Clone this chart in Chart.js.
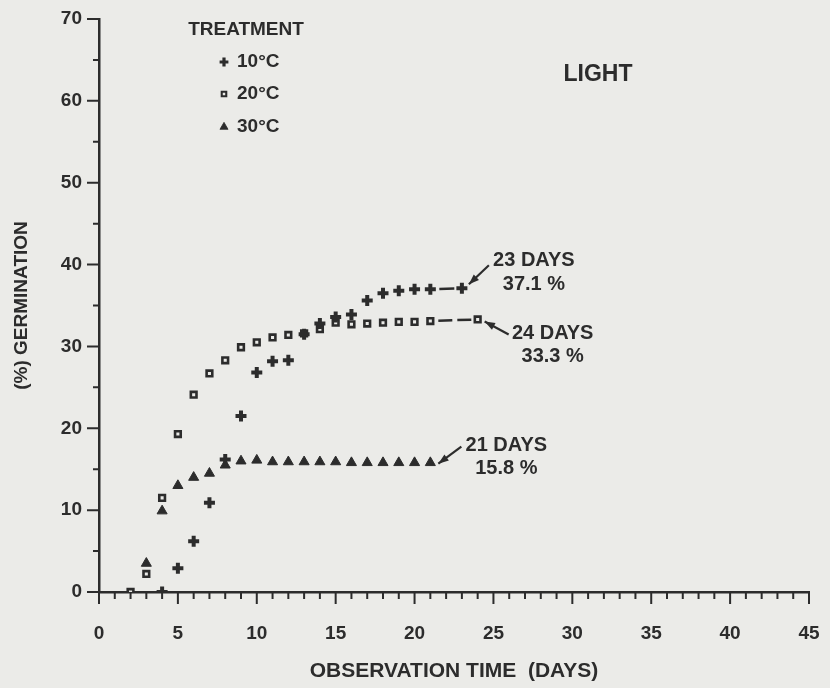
<!DOCTYPE html>
<html>
<head>
<meta charset="utf-8">
<title>Germination - light</title>
<script src="https://cdn.jsdelivr.net/npm/chart.js@4.4.1/dist/chart.umd.min.js"></script>
<style>
  html, body { margin: 0; padding: 0; background: #ebebe8; }
  #wrap { width: 830px; height: 688px; }
</style>
</head>
<body>
<div id="wrap"><canvas id="germination_chart" width="830" height="688"></canvas></div>
<script>
// observation days and % germination
const days_10c = [4, 5, 6, 7, 8, 9, 10, 11, 12, 13, 14, 15, 16, 17, 18, 19, 20, 21, 23];
const germ_10c = [0, 2.9, 6.2, 10.9, 16.2, 21.5, 26.8, 28.2, 28.3, 31.5, 32.8, 33.6, 33.9, 35.6, 36.5, 36.8, 37.0, 37.0, 37.1];

const days_20c = [2, 3, 4, 5, 6, 7, 8, 9, 10, 11, 12, 13, 14, 15, 16, 17, 18, 19, 20, 21, 24];
const germ_20c = [0, 2.2, 11.5, 19.3, 24.1, 26.7, 28.3, 29.9, 30.5, 31.1, 31.4, 31.6, 32.1, 32.9, 32.7, 32.8, 32.9, 33.0, 33.0, 33.1, 33.3];

const days_30c = [3, 4, 5, 6, 7, 8, 9, 10, 11, 12, 13, 14, 15, 16, 17, 18, 19, 20, 21];
const germ_30c = [3.5, 9.9, 13.0, 14.0, 14.5, 15.5, 16.0, 16.1, 15.9, 15.9, 15.9, 15.9, 15.9, 15.8, 15.8, 15.8, 15.8, 15.8, 15.8];

const treatments = ['10°C', '20°C', '30°C'];
const final_labels = [['23 DAYS', '37.1 %'], ['24 DAYS', '33.3 %'], ['21 DAYS', '15.8 %']];

const x_ticks = [0, 5, 10, 15, 20, 25, 30, 35, 40, 45];
const y_ticks = [0, 10, 20, 30, 40, 50, 60, 70];

const ink = '#2c2c2c';
const paper = '#ebebe8';
const fontFamily = "'Liberation Sans', Arial, Helvetica, sans-serif";

const toPoints = (xs, ys) => xs.map((x, i) => ({ x: x, y: ys[i] }));
const lastPoints = (xs, ys, n) => toPoints(xs.slice(-n), ys.slice(-n));

// tick marks along both axes (major every 5 days / 10 %, minor in between)
const axisTicks = {
  id: 'axisTicks',
  afterDraw(chart) {
    const { ctx, scales: { x, y } } = chart;
    ctx.save();
    ctx.strokeStyle = ink;
    ctx.lineWidth = 2;
    ctx.beginPath();
    for (let d = 0; d <= 45; d++) {
      const px = x.getPixelForValue(d);
      ctx.moveTo(px, y.bottom);
      ctx.lineTo(px, y.bottom + (x_ticks.includes(d) ? 12 : 7));
    }
    for (let v = 0; v <= 70; v += 5) {
      const py = y.getPixelForValue(v);
      ctx.moveTo(x.left - (y_ticks.includes(v) ? 12 : 6), py);
      ctx.lineTo(v === 0 ? x.left + 6 : x.left, py);
    }
    ctx.stroke();
    ctx.restore();
  }
};

// "TREATMENT" key and "LIGHT" heading
const treatmentKey = {
  id: 'treatmentKey',
  afterDraw(chart) {
    const ctx = chart.ctx;
    ctx.save();
    ctx.fillStyle = ink;
    ctx.textBaseline = 'middle';
    ctx.font = 'bold 19px ' + fontFamily;
    ctx.textAlign = 'center';
    ctx.fillText('TREATMENT', 246, 30);
    ctx.font = 'bold 23px ' + fontFamily;
    ctx.fillText('LIGHT', 598, 75);

    const rowY = [62, 94, 127];
    ctx.font = 'bold 19px ' + fontFamily;
    ctx.textAlign = 'left';
    chart.data.datasets.slice(0, 3).forEach((ds, i) => {
      ctx.fillStyle = ds.backgroundColor;
      ctx.strokeStyle = ds.borderColor;
      ctx.lineWidth = ds.pointBorderWidth * 0.8;
      Chart.helpers.drawPoint(ctx, {
        pointStyle: ds.pointStyle,
        radius: ds.pointRadius * 0.8,
        borderWidth: ds.pointBorderWidth * 0.8,
        rotation: 0
      }, 224, rowY[i]);
      ctx.fillStyle = ink;
      ctx.fillText(treatments[i], 237, rowY[i]);
    });
    ctx.restore();
  }
};

// arrows and text at the end of each curve
const finalNotes = {
  id: 'finalNotes',
  afterDraw(chart) {
    const ctx = chart.ctx;
    const place = [
      { tip: [7, -4], tail: [27, -23], text: [72, -28, -4] },
      { tip: [7, 2], tail: [31, 15], text: [75, 14, 37] },
      { tip: [8, 1], tail: [31, -16], text: [76, -17, 6] }
    ];
    ctx.save();
    ctx.fillStyle = ink;
    ctx.strokeStyle = ink;
    ctx.lineWidth = 2.2;
    ctx.font = 'bold 20px ' + fontFamily;
    ctx.textAlign = 'center';
    ctx.textBaseline = 'middle';
    place.forEach((p, i) => {
      const pts = chart.getDatasetMeta(i).data;
      const pt = pts[pts.length - 1];
      const tx = pt.x + p.tip[0], ty = pt.y + p.tip[1];
      const ex = pt.x + p.tail[0], ey = pt.y + p.tail[1];
      ctx.beginPath();
      ctx.moveTo(tx, ty);
      ctx.lineTo(ex, ey);
      ctx.stroke();
      const a = Math.atan2(ey - ty, ex - tx);
      ctx.beginPath();
      ctx.moveTo(tx, ty);
      ctx.lineTo(tx + 11 * Math.cos(a + 0.35), ty + 11 * Math.sin(a + 0.35));
      ctx.lineTo(tx + 11 * Math.cos(a - 0.35), ty + 11 * Math.sin(a - 0.35));
      ctx.closePath();
      ctx.fill();
      ctx.fillText(final_labels[i][0], pt.x + p.text[0], pt.y + p.text[1]);
      ctx.fillText(final_labels[i][1], pt.x + p.text[0], pt.y + p.text[2]);
    });
    ctx.restore();
  }
};

const germination_chart = new Chart(document.getElementById('germination_chart'), {
  type: 'scatter',
  data: {
    datasets: [
      {
        label: treatments[0],
        data: toPoints(days_10c, germ_10c),
        pointStyle: 'cross',
        pointRadius: 5.5,
        pointBorderWidth: 4,
        borderColor: ink,
        backgroundColor: ink
      },
      {
        label: treatments[1],
        data: toPoints(days_20c, germ_20c),
        pointStyle: 'rect',
        pointRadius: 4,
        pointBorderWidth: 2.6,
        borderColor: ink,
        backgroundColor: paper
      },
      {
        label: treatments[2],
        data: toPoints(days_30c, germ_30c),
        pointStyle: 'triangle',
        pointRadius: 5.8,
        pointBorderWidth: 1,
        borderColor: ink,
        backgroundColor: ink
      },
      // dashed gaps before the last observation
      {
        label: 'gap 10',
        data: lastPoints(days_10c, germ_10c, 2),
        showLine: true,
        pointRadius: 0,
        borderColor: ink,
        borderWidth: 2.5,
        borderDash: [0, 9, 15, 200]
      },
      {
        label: 'gap 20',
        data: lastPoints(days_20c, germ_20c, 2),
        showLine: true,
        pointRadius: 0,
        borderColor: ink,
        borderWidth: 2.5,
        borderDash: [0, 8, 14, 5, 14, 200]
      }
    ]
  },
  options: {
    responsive: false,
    devicePixelRatio: 1,
    animation: false,
    layout: {
      autoPadding: false,
      padding: { left: 0, top: 19, right: 21, bottom: 0 }
    },
    plugins: {
      legend: { display: false },
      tooltip: { enabled: false }
    },
    scales: {
      x: {
        type: 'linear',
        min: 0,
        max: 45,
        afterFit: (s) => { s.height = 96; s.paddingLeft = 0; s.paddingRight = 0; },
        grid: { display: false, drawTicks: false },
        border: { display: true, color: ink, width: 2.5 },
        ticks: {
          stepSize: 1,
          autoSkip: false,
          maxRotation: 0,
          padding: 30,
          color: ink,
          font: { family: fontFamily, size: 19, weight: 'bold' },
          callback: (v) => x_ticks.includes(v) ? v : ''
        },
        title: {
          display: true,
          text: 'OBSERVATION TIME  (DAYS)',
          color: ink,
          font: { family: fontFamily, size: 21, weight: 'bold' },
          padding: { top: 0, bottom: 4 }
        }
      },
      y: {
        type: 'linear',
        min: 0,
        max: 70,
        afterFit: (s) => { s.width = 99; s.paddingTop = 0; s.paddingBottom = 0; },
        grid: { display: false, drawTicks: false },
        border: { display: true, color: ink, width: 2.5 },
        ticks: {
          stepSize: 5,
          autoSkip: false,
          padding: 17,
          color: ink,
          font: { family: fontFamily, size: 19, weight: 'bold' },
          callback: (v) => y_ticks.includes(v) ? v : ''
        },
        title: {
          display: true,
          text: '(%) GERMINATION',
          color: ink,
          font: { family: fontFamily, size: 19, weight: 'bold' },
          padding: { top: 10, bottom: 0 }
        }
      }
    }
  },
  plugins: [axisTicks, treatmentKey, finalNotes]
});
</script>
</body>
</html>
